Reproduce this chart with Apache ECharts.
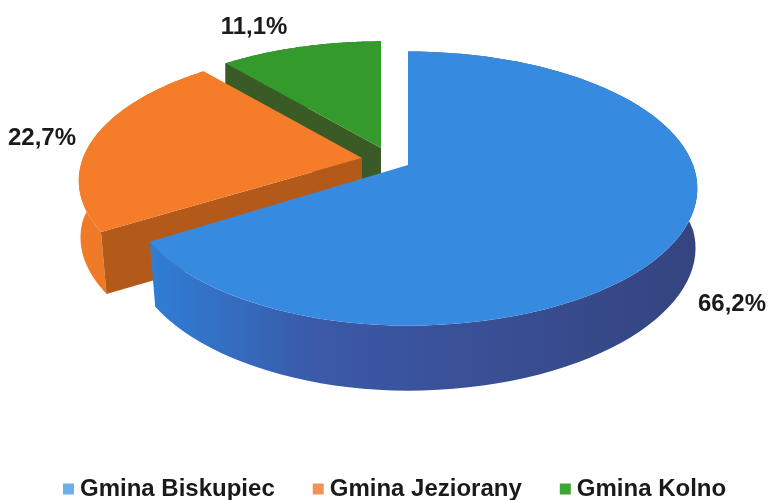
<!DOCTYPE html>
<html>
<head>
<meta charset="utf-8">
<style>html,body{margin:0;padding:0;background:#fff}#c{width:769px;height:500px}</style>
<script src="https://cdn.jsdelivr.net/npm/echarts@6/dist/echarts.min.js"></script>
</head>
<body>
<div id="c"></div>
<script>
const categories = ['Gmina Biskupiec', 'Gmina Jeziorany', 'Gmina Kolno'];
const shares = [66.2, 22.7, 11.1];

// drawing style of each slice (pseudo-3D projection of a tilted disc)
const topColors = ['#368be0', '#f57d2a', '#349a2c'];
const legendColors = ['#6eb0ea', '#f0935a', '#3da535'];
const cutColors = ['#2f6fc0', '#b35a1b', '#3a5a26'];
const sideStops = [
  [[0, '#2f7ed6'], [0.12, '#3470c4'], [0.3, '#3a5aa8'], [0.6, '#3a4f96'], [1, '#34447f']],
  [[0, '#ef7b28'], [1, '#e87524']],
  [[0, '#2a6a24'], [1, '#2a6a24']]
];
const apexes = [[408, 165], [362, 158], [381, 148]];
const radiusLeft = [276, 279, 274];
const radiusRight = [285, 279, 274];
const radiusDepth = [133, 128, 125];
const depths = [65, 62, 62];
const labelPos = [[732, 304], [42, 138], [254, 27]];
const K = 0.172;
const FRONT_SHRINK = 0.04;

const total = shares.reduce((a, b) => a + b, 0);

function project(i, deg, dz) {
  const t = deg * Math.PI / 180, u = Math.sin(t), v = Math.cos(t), d = 1 + K * v;
  const shrink = dz && v < 0 ? 1 + FRONT_SHRINK * v : 1;
  const A = (u > 0 ? radiusRight[i] : radiusLeft[i]) * shrink;
  return [apexes[i][0] + A * u / d, apexes[i][1] - radiusDepth[i] * v / d + dz];
}
function arc(i, a0, a1, dz) {
  const pts = [], n = 90;
  for (let s = 0; s <= n; s++) pts.push(project(i, a0 + (a1 - a0) * s / n, dz));
  return pts;
}
function renderSlice(params, api) {
  const i = params.seriesIndex;
  const a0 = shares.slice(0, i).reduce((a, b) => a + b, 0) / total * 360;
  const a1 = a0 + api.value(0) / total * 360;
  const ap = apexes[i], dep = depths[i];
  const children = [];
  // outer rim
  children.push({
    type: 'polygon',
    shape: { points: arc(i, a0, a1, 0).concat(arc(i, a0, a1, dep).reverse()) },
    style: {
      fill: new echarts.graphic.LinearGradient(0, 0, 1, 0,
        sideStops[i].map(s => ({ offset: s[0], color: s[1] })))
    }
  });
  // cut wall at the slice's start angle (front-facing for the two left slices)
  if (i > 0) {
    const e0 = project(i, a0, 0), e1 = project(i, a0, dep);
    children.push({
      type: 'polygon',
      shape: { points: [[ap[0], ap[1]], e0, e1, [ap[0], ap[1] + dep]] },
      style: { fill: cutColors[i] }
    });
  }
  // top face
  children.push({
    type: 'polygon',
    shape: { points: [[ap[0], ap[1]]].concat(arc(i, a0, a1, 0)) },
    style: { fill: topColors[i] }
  });
  // value label
  children.push({
    type: 'text',
    style: {
      text: api.value(0).toFixed(1).replace('.', ',') + '%',
      x: labelPos[i][0], y: labelPos[i][1],
      align: 'center', verticalAlign: 'middle',
      fontFamily: 'Liberation Sans', fontWeight: 'bold', fontSize: 24, fill: '#1a1a1a'
    }
  });
  return { type: 'group', children };
}

const chart = echarts.init(document.getElementById('c'), null, { renderer: 'canvas' });
chart.setOption({
  animation: false,
  backgroundColor: '#ffffff',
  legend: {
    left: 63, top: 477, itemWidth: 11, itemHeight: 11, itemGap: 38,
    icon: 'rect', padding: 0,
    textStyle: { fontFamily: 'Liberation Sans', fontWeight: 'bold', fontSize: 24, color: '#1a1a1a', padding: [0, 0, 0, 1] },
    data: categories.map((name, i) => ({ name, itemStyle: { color: legendColors[i] } }))
  },
  series: categories.map((name, i) => ({
    type: 'custom', name, coordinateSystem: 'none',
    itemStyle: { color: legendColors[i] },
    renderItem: renderSlice,
    data: [[shares[i]]],
    z: 3 - i
  }))
});
</script>
</body>
</html>
